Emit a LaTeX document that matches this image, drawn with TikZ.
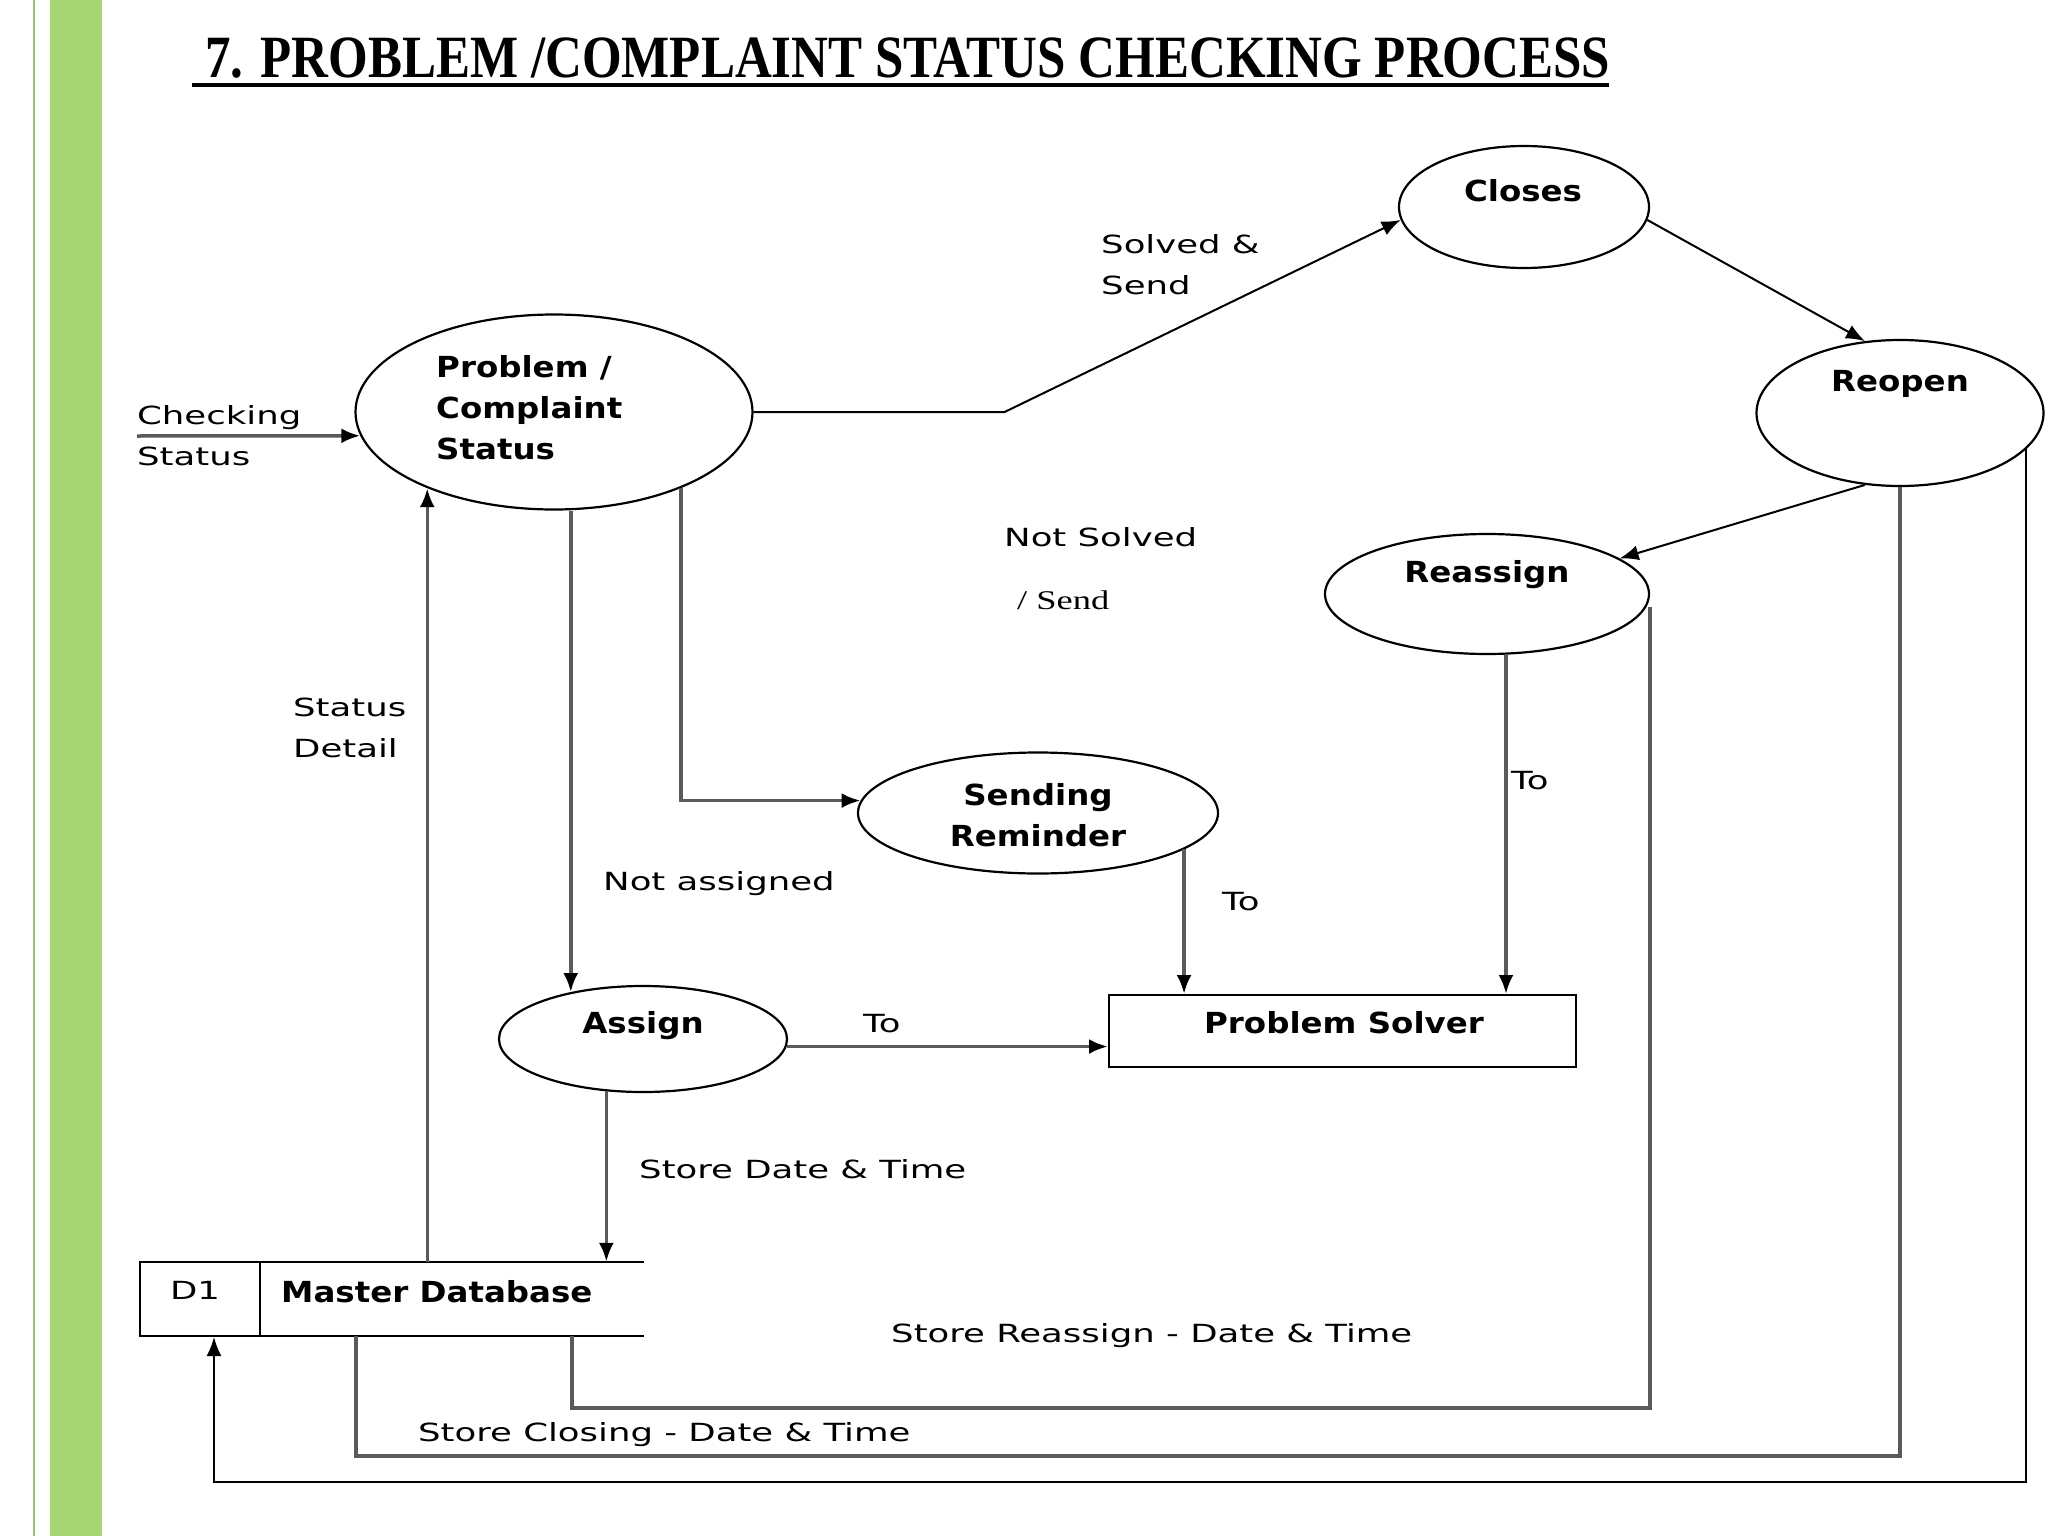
\documentclass[tikz,border=0pt]{standalone}
\usepackage{fontspec}
\usetikzlibrary{shapes.geometric,arrows.meta}
\newfontfamily\lblfont[FakeStretch=1.42]{DejaVu Sans}
\newfontfamily\bldfont[FakeStretch=1.12]{DejaVu Sans}
\newfontfamily\ttlfont[FakeStretch=0.85]{Liberation Serif}
\newfontfamily\sendfont[FakeStretch=1.35]{Liberation Serif}
\definecolor{barGreen}{HTML}{A6D672}
\definecolor{barLine}{HTML}{9CB97E}
\definecolor{lineGray}{HTML}{5A5A5A}
\begin{document}
\begin{tikzpicture}[x=1pt,y=-1pt,
 proc/.style={ellipse, draw=black, line width=2.2pt, inner sep=0},
 lbl/.style={font=\lblfont\fontsize{25}{41}\selectfont, anchor=west, inner sep=0, align=left},
 bt/.style={font=\bldfont\bfseries\fontsize{29}{41}\selectfont, inner sep=0, align=center},
 gline/.style={draw=lineGray, line width=3.5pt},
 bline/.style={draw=black, line width=2pt},
 tip/.style={-{Latex[length=19pt,width=15pt,color=black]}},
]
\useasboundingbox (0,0) rectangle (2048,1536);
\fill[white] (0,0) rectangle (2048,1536);
% left decoration
\fill[barGreen] (50,0) rectangle (102,1536);
\draw[barLine, line width=2pt] (34,0) -- (34,1536);
% title
\node[font=\ttlfont\bfseries\fontsize{60}{60}\selectfont, anchor=base west, inner sep=0] (title) at (205,78) {7. PROBLEM /COMPLAINT STATUS CHECKING PROCESS};
\draw[line width=4pt] (192,85) -- (1609,85);

% processes
\node[proc, minimum width=397pt, minimum height=195pt] (pcs) at (554,412) {};
\node[bt, anchor=west, align=left] (pcst) at (436,408) {Problem /\\Complaint\\Status};
\node[proc, minimum width=250pt, minimum height=122pt] (closes) at (1524,207) {};
\node[bt] (closest) at (1523,191) {Closes};
\node[proc, minimum width=287pt, minimum height=146pt] (reopen) at (1900,413) {};
\node[bt] (reopent) at (1900,384) {Reopen};
\node[proc, minimum width=324pt, minimum height=120pt] (reassign) at (1487,594) {};
\node[bt] (reassignt) at (1487,575) {Reassign};
\node[proc, minimum width=360pt, minimum height=121pt] (remind) at (1038,813) {};
\node[bt] (remindt) at (1038,815) {Sending\\Reminder};
\node[proc, minimum width=288pt, minimum height=106pt] (assign) at (643,1039) {};
\node[bt] (assignt) at (643,1026) {Assign};
\node[draw, line width=2pt, minimum width=467pt, minimum height=72pt, inner sep=0] (solver) at (1342.5,1031) {};
\node[bt] (solvert) at (1344,1023) {Problem Solver};

% data store
\node[draw, line width=2pt, minimum width=120pt, minimum height=74pt, inner sep=0] (d1) at (200,1299) {};
\node[font=\lblfont\fontsize{25}{30}\selectfont, inner sep=0] (d1t) at (195,1290) {D1};
\node[minimum width=384pt, minimum height=74pt, inner sep=0] (db) at (452,1299) {};
\draw[line width=2pt] (db.north west) -- (db.north east);
\draw[line width=2pt] (db.south west) -- (db.south east);
\node[bt, anchor=west] (dbt) at (281,1292) {Master Database};

% connectors
\coordinate (in) at (137,436);
\draw[gline,tip] (in) -- (pcs.187);
\draw[bline,tip] (pcs.east) -- ++(251,0) -- (closes.186);
\draw[bline,tip] (closes.354) -- (reopen.116);
\draw[bline,tip] (reopen.244) -- (reassign.15);
\coordinate (rsb) at ([xshift=19pt]reassign.south);
\draw[gline,tip] (rsb) -- (rsb |- solver.north);
\draw[gline,tip] (remind.346) -- (remind.346 |- solver.north);
\draw[gline,tip] (pcs.329) |- (remind.176);
\draw[gline,tip] (pcs.south -| assign.147) -- (assign.147);
\draw[gline,tip] (assign.357) -- (assign.357 -| solver.west);
\draw[gline,tip] (assign.235) -- (assign.235 |- db.north);
\draw[gline,tip] (pcs.211 |- db.north) -- (pcs.211);
\coordinate (rse) at ([yshift=-13pt]reassign.east);
\draw[gline] (rse) |- ([xshift=120pt,yshift=-72pt]db.south) -- ([xshift=120pt]db.south);
\draw[gline] (reopen.south) |- ([xshift=-96pt,yshift=-120pt]db.south) -- ([xshift=-96pt]db.south);
\draw[bline,tip] (reopen.344) |- ([xshift=14pt,yshift=-145pt]d1.south) -- ([xshift=14pt]d1.south);

% labels
\node[lbl] (l1) at (137,435.5) {Checking\\Status};
\node[lbl] (l2) at (1101,265) {Solved \&\\Send};
\node[lbl] (l3) at (1004,537) {Not Solved};
\node[font=\sendfont\fontsize{27}{30}\selectfont, anchor=west, inner sep=0] (l4) at (1017,600) {/ Send};
\node[lbl] (l5) at (293,727.5) {Status\\Detail};
\node[lbl] (l6) at (603,884) {Not assigned};
\node[lbl] (l7) at (1511,781) {To};
\node[lbl] (l8) at (1222,902) {To};
\node[lbl] (l9) at (863,1024) {To};
\node[lbl] (l10) at (639,1169) {Store Date \& Time};
\node[lbl] (l11) at (891,1336) {Store Reassign - Date \& Time};
\node[lbl] (l12) at (418,1435) {Store Closing - Date \& Time};
\end{tikzpicture}
\end{document}
